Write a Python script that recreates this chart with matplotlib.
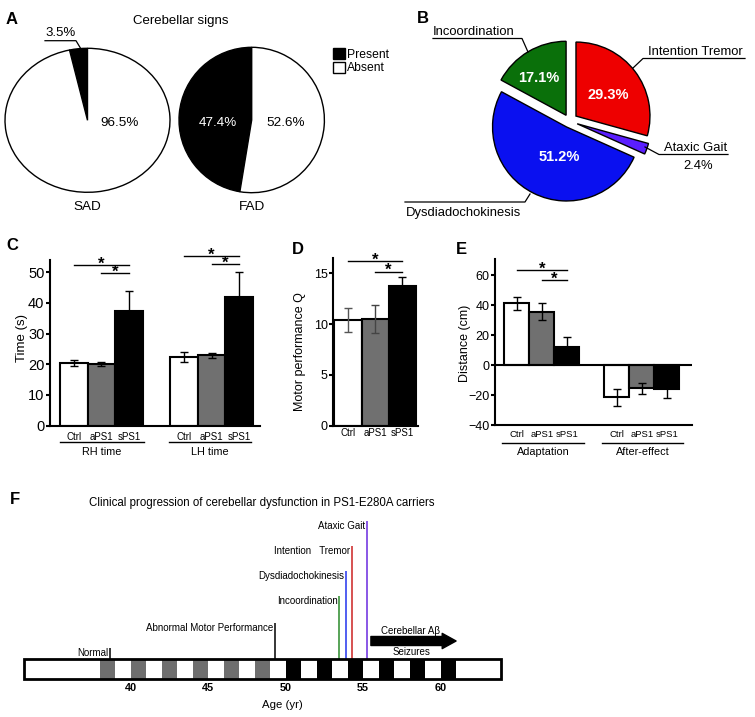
import matplotlib
matplotlib.use("Agg")
import matplotlib.pyplot as plt
from matplotlib.lines import Line2D
from matplotlib.patches import Patch, Rectangle

plt.rcParams['font.family'] = ['Liberation Sans', 'DejaVu Sans']

# ---------------- data ----------------
pie_a_labels = ['Present', 'Absent']
sad_values = [3.5, 96.5]
fad_values = [47.4, 52.6]

signs_labels = ['Intention Tremor', 'Ataxic Gait', 'Dysdiadochokinesis', 'Incoordination']
signs_values = [29.3, 2.4, 51.2, 17.1]

groups = ['Ctrl', 'aPS1', 'sPS1']
rh_mean = [20.3, 20.2, 37.5]
rh_err = [1.0, 0.7, 6.4]
lh_mean = [22.4, 23.0, 42.0]
lh_err = [1.5, 0.8, 8.0]
motor_mean = [10.4, 10.5, 13.7]
motor_err = [1.15, 1.4, 0.95]
adapt_mean = [41.1, 35.6, 12.2]
adapt_err = [4.4, 5.5, 6.2]
after_mean = [-21.6, -15.6, -16.2]
after_err = [5.4, 3.6, 6.0]

timeline_start, timeline_end = 33.1, 63.9
gray_blocks = [38, 40, 42, 44, 46, 48]
black_blocks = [50, 52, 54, 56, 58, 60]
age_ticks = [40, 45, 50, 55, 60]
event_names = ['Normal', 'Abnormal Motor Performance', 'Incoordination',
               'Dysdiadochokinesis', 'Intention   Tremor', 'Ataxic Gait']
event_ages = [38.65, 49.33, 53.46, 53.87, 54.26, 55.25]
arrow_start, arrow_end = 55.5, 61.0

# ---------------- layout / style ----------------
W, H = 755, 717
fig = plt.figure(figsize=(W / 100, H / 100), dpi=100)


def add_ax(box):
    l, t, r, b = box
    return fig.add_axes([l / W, 1 - b / H, (r - l) / W, (b - t) / H])


def yfrac(box, py):
    l, t, r, b = box
    return (b - py) / (b - t)


def ftext(px, py, s, **kw):
    kw.setdefault('ha', 'center')
    kw.setdefault('va', 'center')
    return fig.text(px / W, 1 - py / H, s, **kw)


def fline(xs, ys, **kw):
    kw.setdefault('color', 'black')
    kw.setdefault('lw', 0.9)
    fig.add_artist(Line2D([x / W for x in xs], [1 - y / H for y in ys], **kw))


def letter(px, py, s):
    ftext(px, py, s, fontsize=12, fontweight='bold')


wp = dict(edgecolor='black', linewidth=1.0)

# ---------------- Panel A ----------------
letter(12, 20, 'A')
ftext(181, 20.7, 'Cerebellar signs', fontsize=9.5)
sad_c, sad_rx, sad_ry = (87.5, 120.3), 82.5, 72
ax_sad = add_ax((sad_c[0] - 1.25 * sad_rx, sad_c[1] - 1.25 * sad_ry,
                 sad_c[0] + 1.25 * sad_rx, sad_c[1] + 1.25 * sad_ry))
ax_sad.pie(sad_values, colors=['black', 'white'], startangle=90, counterclock=True, wedgeprops=wp)
ax_sad.set_aspect('auto')
ax_sad.set_xlim(-1.25, 1.25)
ax_sad.set_ylim(-1.25, 1.25)

fad_c, fad_r = (251.7, 120), 72.7
ax_fad = add_ax((fad_c[0] - 1.25 * fad_r, fad_c[1] - 1.25 * fad_r,
                 fad_c[0] + 1.25 * fad_r, fad_c[1] + 1.25 * fad_r))
ax_fad.pie(fad_values, colors=['black', 'white'], startangle=90, counterclock=True, wedgeprops=wp)

ftext(119.3, 122.7, f'{sad_values[1]}%', fontsize=9.7)
ftext(60.3, 33.3, f'{sad_values[0]}%', fontsize=9.5)
fline([45, 76, 81], [40.7, 40.7, 49])
ftext(217.7, 122.7, f'{fad_values[0]}%', fontsize=9.7, color='white')
ftext(285.7, 122.7, f'{fad_values[1]}%', fontsize=9.7)
ftext(87.7, 206.7, 'SAD', fontsize=9.7)
ftext(251.7, 206.7, 'FAD', fontsize=9.7)
fig.legend(handles=[Patch(facecolor='black', edgecolor='black'),
                    Patch(facecolor='white', edgecolor='black')],
           labels=pie_a_labels, loc='upper left', bbox_to_anchor=(333 / W, 1 - 48 / H),
           frameon=False, fontsize=8.7, handlelength=1.0, handleheight=1.0,
           handletextpad=0.12, labelspacing=0.1, borderpad=0, borderaxespad=0)

# ---------------- Panel B ----------------
letter(423, 18.5, 'B')
bcx, bcy, bR = 569.5, 121, 74
sign_colors = ['#ee0000', '#5a1eff', '#0a10f0', '#0a700a']
ax_b = add_ax((bcx - 1.25 * bR, bcy - 1.25 * bR, bcx + 1.25 * bR, bcy + 1.25 * bR))
ax_b.pie(signs_values, colors=sign_colors, explode=[0.11, 0.11, 0.09, 0.09],
         startangle=90, counterclock=False, wedgeprops=wp)
pct_kw = dict(fontsize=10.5, fontweight='bold', color='white')
ftext(608, 95, f'{signs_values[0]}%', **pct_kw)
ftext(559, 157, f'{signs_values[2]}%', **pct_kw)
ftext(539, 78, f'{signs_values[3]}%', **pct_kw)

lab_fs = 9.4
ftext(433, 32, signs_labels[3], ha='left', fontsize=lab_fs)
fline([433, 522, 528], [38.5, 38.5, 52])
ftext(648, 52, signs_labels[0], ha='left', fontsize=lab_fs)
fline([745, 643, 633], [58.5, 58.5, 68])
ftext(664, 148, signs_labels[1], ha='left', fontsize=lab_fs)
fline([728, 659, 645], [154.5, 154.5, 147])
ftext(698, 166, f'{signs_values[1]}%', fontsize=lab_fs)
ftext(406, 213, signs_labels[2], ha='left', fontsize=lab_fs)
fline([405, 525, 530], [202, 202, 194])


# ---------------- helpers for bar panels ----------------
bar_colors = ['white', '#707070', 'black']


def style_ax(ax, fs, xpad, xfs=7.0):
    for s in ['top', 'right']:
        ax.spines[s].set_visible(False)
    for s in ['left', 'bottom']:
        ax.spines[s].set_linewidth(1.5)
    ax.tick_params(axis='y', length=3, width=1.5, labelsize=fs, pad=1)
    ax.tick_params(axis='x', length=0, labelsize=xfs, pad=xpad)
    ax.patch.set_alpha(0)


def bars(ax, xs, m, e, ecolors=('black', 'black', 'black')):
    ax.bar(xs, m, width=1.0, color=bar_colors, edgecolor='black', linewidth=1.5, zorder=2)
    for x, mm, ee, ec in zip(xs, m, e, ecolors):
        ax.errorbar([x], [mm], yerr=[ee], fmt='none', ecolor=ec, elinewidth=1,
                    capsize=2.8, capthick=1, zorder=3)


def sig(ax, x0, x1, y):
    ax.plot([x0, x1], [y, y], color='black', lw=1, clip_on=False)
    ax.annotate('*', xy=((x0 + x1) / 2, y), xytext=(0, 0.8), textcoords='offset points',
                ha='center', va='center', fontsize=12, fontweight='bold', annotation_clip=False)


def group_line(ax, box, x0, x1, py_line, py_label, label, fs=7.8):
    tr = ax.get_xaxis_transform()
    yl = yfrac(box, py_line)
    ax.plot([x0, x1], [yl, yl], transform=tr, color='black', lw=1, clip_on=False)
    ax.text((x0 + x1) / 2, yfrac(box, py_label), label, transform=tr,
            ha='center', va='center', fontsize=fs)


def ylab(ax, box, px, py, s, fs=9):
    l, t, r, b = box
    ax.text((px - l) / (r - l), yfrac(box, py), s, transform=ax.transAxes,
            rotation=90, ha='center', va='center', fontsize=fs)


# ---------------- Panel C ----------------
letter(12, 245, 'C')
boxC = (50, 259.9, 260, 425.7)
axC = add_ax(boxC)
rh_x = [0, 1, 2]
lh_x = [4, 5, 6]
bars(axC, rh_x, rh_mean, rh_err)
bars(axC, lh_x, lh_mean, lh_err)
axC.set_xlim(-0.87, 6.76)
axC.set_ylim(0, 54)
axC.set_yticks([0, 10, 20, 30, 40, 50])
axC.set_xticks(rh_x + lh_x, groups * 2)
style_ax(axC, 10.5, 4.2)
sig(axC, 0, 2, 52.3)
sig(axC, 1, 2, 49.6)
sig(axC, 4, 6, 55.3)
sig(axC, 5, 6, 52.6)
group_line(axC, boxC, -0.5, 2.55, 441.7, 452, 'RH time')
group_line(axC, boxC, 3.45, 6.45, 441.7, 452, 'LH time')
ylab(axC, boxC, 22.3, 338, 'Time (s)', fs=9.5)

# ---------------- Panel D ----------------
letter(298, 250, 'D')
boxD = (333.3, 258, 418, 425.7)
axD = add_ax(boxD)
d_x = [0, 1, 2]
bars(axD, d_x, motor_mean, motor_err, ecolors=('#555555', '#444444', 'black'))
axD.set_xlim(-0.544, 2.59)
axD.set_ylim(0, 16.5)
axD.set_yticks([0, 5, 10, 15])
axD.set_xticks(d_x, groups)
style_ax(axD, 9, 2.0)
sig(axD, 0, 2, 16.2)
sig(axD, 1, 2, 15.15)
ylab(axD, boxD, 300, 352, 'Motor performance Q')

# ---------------- Panel E ----------------
letter(461, 250, 'E')
boxE = (495, 259, 691.7, 425)
axE = add_ax(boxE)
ad_x = [0, 1, 2]
af_x = [4, 5, 6]
bars(axE, ad_x, adapt_mean, adapt_err)
bars(axE, af_x, after_mean, after_err)
axE.axhline(0, color='black', lw=1.5, zorder=2.5)
axE.set_xlim(-0.88, 6.99)
axE.set_ylim(-40, 70.7)
axE.set_yticks([-40, -20, 0, 20, 40, 60])
axE.set_xticks(ad_x + af_x, groups * 2)
style_ax(axE, 9, 3.6, xfs=6.8)
sig(axE, 0, 2, 63.3)
sig(axE, 1, 2, 56.7)
group_line(axE, boxE, -0.6, 2.7, 443.3, 452, 'Adaptation')
group_line(axE, boxE, 3.4, 6.65, 443.3, 452, 'After-effect')
ylab(axE, boxE, 465, 343, 'Distance (cm)')

# ---------------- Panel F ----------------
letter(15, 500, 'F')
ftext(261.7, 502.7, 'Clinical progression of cerebellar dysfunction in PS1-E280A carriers', fontsize=8.3)
boxF = (24, 515, 501, 681)
axF = add_ax(boxF)
axF.set_xlim(timeline_start, timeline_end)
axF.set_ylim(-21.7, 144.3)
for s in axF.spines.values():
    s.set_visible(False)
axF.set_yticks([])
axF.patch.set_alpha(0)
bar_h = 20
axF.bar(gray_blocks, bar_h, width=1, bottom=-bar_h, align='edge', color='#6e6e6e', zorder=2)
axF.bar(black_blocks, bar_h, width=1, bottom=-bar_h, align='edge', color='black', zorder=2)
axF.add_patch(Rectangle((timeline_start, -bar_h), timeline_end - timeline_start, bar_h,
                        fill=False, edgecolor='black', lw=2, zorder=4, clip_on=False))
event_levels = [11, 36, 63, 88.5, 113, 138]
event_colors = ['black', 'black', '#2a8a2a', '#2233ee', '#cc2222', '#6a2adf']
axF.vlines(event_ages, 0, event_levels, colors=event_colors, lw=1.1, zorder=3)
for name, age, lev in zip(event_names, event_ages, event_levels):
    axF.text(age - 0.12, lev - 5, name, ha='right', va='center', fontsize=7)
axF.annotate('', xy=(arrow_end, 18.3), xytext=(arrow_start, 18.3),
             arrowprops=dict(arrowstyle='simple,head_width=1.1,head_length=1.0,tail_width=0.65',
                             mutation_scale=10, color='black', shrinkA=0, shrinkB=0))
axF.text(58.07, 28.6, 'Cerebellar A\u03b2', ha='center', va='center', fontsize=7)
axF.text(58.1, 7.6, 'Seizures', ha='center', va='center', fontsize=7)
axF.set_xticks(age_ticks)
axF.tick_params(axis='x', length=0, pad=1.5, labelsize=7.8)
for lab in axF.get_xticklabels():
    lab.set_fontweight('bold')
ftext(282.7, 705, 'Age (yr)', fontsize=8.2)

fig.savefig('out.png', dpi=100)
